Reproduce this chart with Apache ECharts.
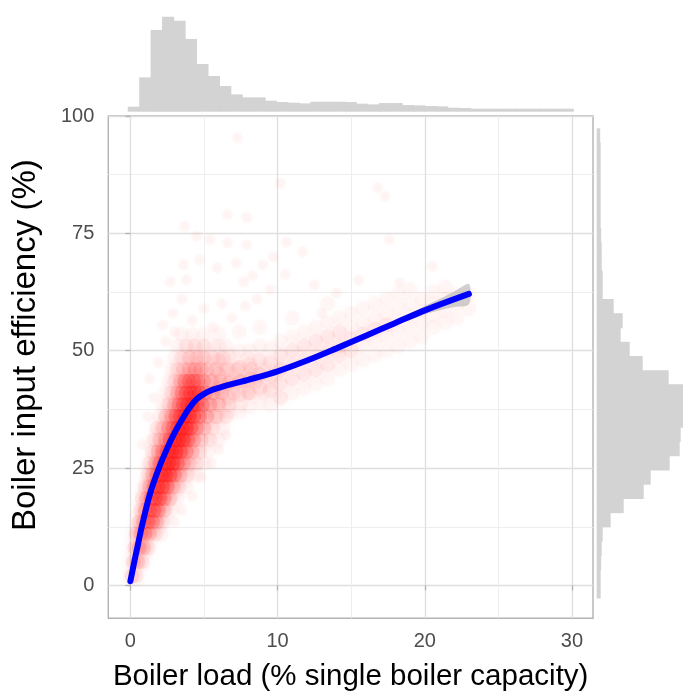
<!DOCTYPE html>
<html>
<head>
<meta charset="utf-8">
<script src="https://cdn.jsdelivr.net/npm/echarts@6/dist/echarts.min.js"></script>
<style>
html,body{margin:0;padding:0;background:#fff;}
#chart{width:683px;height:691px;}
</style>
</head>
<body>
<div id="chart"></div>
<script>
// ---------- data ----------
var xTicks = [0, 10, 20, 30];
var xMinorTicks = [5, 15, 25];
var yTicks = [0, 25, 50, 75, 100];
var yMinorTicks = [12.5, 37.5, 62.5, 87.5];

// dense observations: [boiler load %, efficiency %, relative local density]
var cloud = [
[0.1,2,3],[0.4,2,2],
[0.2,5,3],[0.5,5,4],[0.8,5,2],
[0.3,8,3],[0.6,8,5],[0.9,8,4],[1.2,8,2],
[0.4,11,3],[0.7,11,5],[1.0,11,6],[1.3,11,4],[1.7,11,2],[2.1,11,1],
[0.6,13.5,3],[0.9,13.5,5],[1.2,13.5,7],[1.5,13.5,6],[1.8,13.5,4],[2.2,13.5,2],
[0.7,16,2],[1.0,16,5],[1.3,16,7],[1.6,16,8],[1.9,16,6],[2.3,16,3],[2.8,16,1],
[0.8,18.5,2],[1.1,18.5,4],[1.4,18.5,7],[1.7,18.5,9],[2.0,18.5,8],[2.3,18.5,6],[2.7,18.5,3],[3.2,18.5,1],
[1.0,21,2],[1.3,21,4],[1.6,21,7],[1.9,21,9],[2.2,21,9],[2.5,21,7],[2.9,21,4],[3.3,21,2],[3.8,21,1],
[1.2,23.5,2],[1.5,23.5,4],[1.8,23.5,7],[2.1,23.5,9],[2.4,23.5,10],[2.7,23.5,9],[3.0,23.5,6],[3.4,23.5,4],[3.9,23.5,2],[4.5,23.5,1],
[1.3,26,2],[1.7,26,4],[2.0,26,7],[2.3,26,9],[2.6,26,10],[2.9,26,10],[3.2,26,8],[3.6,26,5],[4.0,26,3],[4.5,26,2],[5.0,26,1],
[1.5,28.5,2],[1.9,28.5,4],[2.2,28.5,6],[2.5,28.5,9],[2.8,28.5,10],[3.1,28.5,10],[3.4,28.5,9],[3.8,28.5,6],[4.2,28.5,4],[4.7,28.5,2],[5.3,28.5,1],
[1.6,31,2],[2.0,31,3],[2.4,31,5],[2.7,31,8],[3.0,31,10],[3.3,31,10],[3.6,31,10],[3.9,31,8],[4.3,31,5],[4.8,31,3],[5.4,31,2],[6.0,31,1],
[1.8,33.5,2],[2.2,33.5,3],[2.6,33.5,5],[2.9,33.5,7],[3.2,33.5,9],[3.5,33.5,10],[3.8,33.5,10],[4.1,33.5,9],[4.5,33.5,6],[5.0,33.5,4],[5.6,33.5,2],[6.3,33.5,1],
[2.0,36,1],[2.4,36,3],[2.8,36,5],[3.1,36,7],[3.4,36,9],[3.7,36,10],[4.0,36,10],[4.3,36,9],[4.7,36,7],[5.2,36,5],[5.8,36,3],[6.5,36,2],
[2.2,38.5,1],[2.6,38.5,2],[3.0,38.5,4],[3.3,38.5,6],[3.6,38.5,8],[3.9,38.5,10],[4.2,38.5,10],[4.5,38.5,9],[4.9,38.5,7],[5.4,38.5,5],[6.0,38.5,3],[6.7,38.5,2],[7.5,38.5,1],
[2.4,41,1],[2.8,41,2],[3.2,41,4],[3.5,41,6],[3.8,41,8],[4.1,41,9],[4.4,41,9],[4.7,41,8],[5.1,41,6],[5.6,41,4],[6.2,41,3],[7.0,41,2],[8.0,41,2],[9.0,41,1],
[2.6,43.5,1],[3.0,43.5,2],[3.4,43.5,4],[3.7,43.5,6],[4.0,43.5,7],[4.3,43.5,7],[4.6,43.5,6],[5.0,43.5,5],[5.5,43.5,4],[6.1,43.5,3],[6.8,43.5,2],[7.6,43.5,2],[8.5,43.5,2],[9.5,43.5,1],
[2.8,46,1],[3.2,46,2],[3.6,46,3],[4.0,46,4],[4.4,46,5],[4.8,46,4],[5.2,46,3],[5.8,46,3],[6.5,46,2],[7.3,46,2],[8.2,46,2],[9.2,46,1],
[3.0,48.5,1],[3.5,48.5,2],[4.0,48.5,3],[4.5,48.5,3],[5.0,48.5,3],[5.6,48.5,2],[6.3,48.5,2],[7.1,48.5,1],[8.0,48.5,1],
[3.2,51,1],[3.8,51,2],[4.4,51,2],[5.0,51,2],[5.7,51,1],[6.5,51,1],
[3.5,53.5,1],[4.2,53.5,1],[5.0,53.5,1],[6.0,53.5,1],
// band along the trend at higher loads
[6.0,36,1],[6.0,39,2],[6.0,42,3],[6.0,45,2],[6.0,48,2],[6.0,51,1],
[6.7,37,1],[6.7,40,2],[6.7,43,3],[6.7,46,2],[6.7,49,1],
[7.4,37,1],[7.4,40.5,2],[7.4,43.5,3],[7.4,46.5,2],[7.4,50,1],[7.4,54,1],
[8.1,38,1],[8.1,41,2],[8.1,44,3],[8.1,47,2],[8.1,50,1],
[8.8,39,1],[8.8,42,2],[8.8,45,3],[8.8,48,2],[8.8,51,1],[8.8,55,1],
[9.5,38.5,1],[9.5,41.5,2],[9.5,44.5,2],[9.5,47.5,2],[9.5,50.5,1],
[10.2,40,2],[10.2,43,2],[10.2,46,3],[10.2,49,2],[10.2,52,1],
[11.0,41,1],[11.0,44,2],[11.0,47,2],[11.0,50,2],[11.0,53,1],[11.0,57,1],
[11.8,42,1],[11.8,45,2],[11.8,48,2],[11.8,51,2],[11.8,54,1],
[12.6,43,1],[12.6,46,2],[12.6,49,2],[12.6,52,2],[12.6,55,1],
[13.4,44,1],[13.4,47,2],[13.4,50,2],[13.4,53,2],[13.4,56,1],[13.4,60,1],
[14.2,46,1],[14.2,49,2],[14.2,51,2],[14.2,54,2],[14.2,57,1],
[15.0,47,1],[15.0,50,2],[15.0,52.5,2],[15.0,55,1],[15.0,58,1],
[15.8,48,1],[15.8,51,1],[15.8,53.5,2],[15.8,56,1],[15.8,59,1],
[16.6,49,1],[16.6,52,1],[16.6,54.5,2],[16.6,57,1],[16.6,60,1],
[17.4,50,1],[17.4,53,1],[17.4,55.5,2],[17.4,58,1],[17.4,61,1],
[18.2,51,1],[18.2,54,1],[18.2,56.5,1],[18.2,59,1],[18.2,62,1],
[19.0,52,1],[19.0,55,1],[19.0,57.5,1],[19.0,60,1],[19.0,63,1],
[19.8,53,1],[19.8,56,1],[19.8,58.5,1],[19.8,61,1],
[20.6,55,1],[20.6,57.5,1],[20.6,60,1],[20.6,62.5,1],
[21.4,56,1],[21.4,58.5,1],[21.4,61,1],[21.4,63.5,1],
[22.2,57,1],[22.2,60,1],[22.2,62,1],
[23.0,59,1],[23.0,62,1]
];
// isolated observations: [boiler load %, efficiency %, relative local density]
var sparse = [
[7.3,95.4,1],[10.2,85.7,1],[16.8,84.8,1],[17.3,82.9,1],[6.6,79,1],[7.9,78.4,1],[3.7,76.5,1],
[4.5,74.4,1],[5.4,73.7,1],[6.6,73,1],[7.9,72.6,1],[10.6,73.2,1],[11.7,71.1,1],[17.6,73.7,1],
[4.7,69.4,1],[5.9,67.7,1],[7.2,68.7,1],[9.0,68.3,1],[9.7,70,1],[10.5,66.2,1],[3.6,68.3,1],
[2.7,64.7,1],[3.8,65.1,1],[7.7,64.7,1],[14.0,62.3,1],[18.3,64.5,1],
[2.9,58,1],[3.5,61,1],[4.2,56.5,1],[5.0,59,1],[5.6,55,1],[6.2,60,1],[6.9,57,1],[7.8,59.5,1],
[8.6,61,1],[3.0,54,1],[2.4,52,1],[1.3,44,1],[1.6,40,1],[1.2,36,1],[0.8,30,1],[1.9,47.5,1],
[2.2,55.5,1],[9.5,63,1],[8.3,66,1],[12.5,64,1],[15.5,65,1],[20.5,68,1],[13.0,58,1],
[3.5,16,1],[4.2,19,1],[3.0,13.5,1],[4.8,23,1],[5.5,26,1],[6.0,29,1],[6.5,32,1]
];

// smoothed trend
var trendX = [0, 0.25, 0.5, 0.75, 1, 1.25, 1.5, 2, 2.5, 3, 3.5, 4, 4.5, 5, 5.5, 6, 7, 8, 10, 12, 14, 16, 18, 20, 23];
var trendY = [0.9, 4.8, 8.5, 12.2, 15.5, 18.6, 21.2, 25.5, 29.2, 32.5, 35.3, 37.8, 39.7, 40.8, 41.6, 42.1, 43.0, 43.8, 45.6, 47.9, 50.5, 53.2, 55.9, 58.6, 62.1];
// confidence band (visible part)
var ciX  = [16, 18, 20, 21, 22, 23];
var ciLo = [52.8, 55.3, 57.7, 58.6, 59.3, 59.9];
var ciHi = [53.6, 56.5, 59.5, 61.0, 62.6, 64.2];

// marginal histogram of boiler load
var loadEdges = [-0.15,0.63,1.40,2.18,2.95,3.73,4.50,5.28,6.06,6.83,7.61,8.38,9.16,9.93,10.71,11.49,12.26,13.04,13.81,14.59,15.36,16.14,16.92,17.69,18.47,19.24,20.02,20.79,21.57,22.35,23.12,23.90,24.67,25.45,26.22,27.00,27.78,28.55,29.33,30.10];
var loadCounts = [15,103,245,285,273,218,143,107,77,52,43,43,33,29,27,25,30,30,30,29,24,22,26,26,20,19,17,16,12,11,9,9,9,9,9,9,9,9,9];
// marginal histogram of efficiency
var effEdges = [-2.70,0.33,3.36,6.39,9.42,12.45,15.48,18.51,21.54,24.57,27.60,30.63,33.66,36.69,39.72,42.75,45.78,48.81,51.84,54.87,57.90,60.93,63.96,66.99,70.02,73.05,76.08,79.11,82.14,85.17,88.20,91.23,94.26,97.29];
var effCounts = [4,4,4.5,5,6,14,27,47,54,73,83,84,88,88,88,72,46,33,24,26,17,6,6,5,5,4.5,4,4,4,4,4,4,3.5];

// ---------- chart ----------
var FONT = 'Liberation Sans, Arial, sans-serif';
var GRID_MAJOR = '#dedede', GRID_MINOR = '#ececec', BORDER = '#b3b3b3', HIST = '#d3d3d3';
var X_MIN = -1.5, X_MAX = 31.43, Y_MIN = -7, Y_MAX = 100;

var trendData = trendX.map(function (x, i) { return [x, trendY[i]]; });
var loadHist = loadCounts.map(function (c, i) { return [loadEdges[i], loadEdges[i + 1], c]; });
var effHist = effCounts.map(function (c, i) { return [effEdges[i], effEdges[i + 1], c]; });
var ciData = ciX.map(function (x, i) { return [x, ciLo[i], ciHi[i]]; });

var chart = echarts.init(document.getElementById('chart'), null, {renderer: 'canvas'});
chart.setOption({
  animation: false,
  backgroundColor: '#ffffff',
  textStyle: {fontFamily: FONT},
  grid: [
    {left: 108.3, top: 116, width: 484.7, height: 502.3, show: true, borderColor: BORDER, borderWidth: 1.4,
     backgroundColor: 'transparent', outerBoundsMode: 'none', containLabel: false},
    {left: 108.3, top: 10, width: 484.7, height: 101.7, outerBoundsMode: 'none', containLabel: false},
    {left: 596.7, top: 116, width: 86.3, height: 502.3, outerBoundsMode: 'none', containLabel: false}
  ],
  xAxis: [
    {gridIndex: 0, type: 'value', min: X_MIN, max: X_MAX,
     name: 'Boiler load (% single boiler capacity)', nameLocation: 'middle', nameGap: 44,
     nameTextStyle: {fontSize: 29.5, color: '#000', fontFamily: FONT},
     axisLine: {show: false},
     axisTick: {show: true, customValues: xTicks, length: 5, lineStyle: {color: BORDER, width: 1.3}},
     axisLabel: {customValues: xTicks, fontSize: 20, color: '#4d4d4d', margin: 13, fontFamily: FONT},
     splitLine: {show: true, customValues: xTicks, lineStyle: {color: GRID_MAJOR, width: 1.3}}},
    {gridIndex: 0, type: 'value', min: X_MIN, max: X_MAX,
     axisLine: {show: false}, axisLabel: {show: false},
     axisTick: {show: false, customValues: xMinorTicks},
     splitLine: {show: true, customValues: xMinorTicks, lineStyle: {color: GRID_MINOR, width: 0.9}}},
    {gridIndex: 1, type: 'value', min: X_MIN, max: X_MAX, show: false},
    {gridIndex: 2, type: 'value', min: 0, max: 86.3, show: false}
  ],
  yAxis: [
    {gridIndex: 0, type: 'value', min: Y_MIN, max: Y_MAX,
     name: 'Boiler input efficiency (%)', nameLocation: 'middle', nameGap: 66,
     nameTextStyle: {fontSize: 33, color: '#000', fontFamily: FONT, padding: [0, 0, 0, 44]},
     axisLine: {show: false},
     axisTick: {show: true, customValues: yTicks, length: 5, lineStyle: {color: BORDER, width: 1.3}},
     axisLabel: {customValues: yTicks, fontSize: 20, color: '#4d4d4d', margin: 14, fontFamily: FONT},
     splitLine: {show: true, customValues: yTicks, lineStyle: {color: GRID_MAJOR, width: 1.3}}},
    {gridIndex: 0, type: 'value', min: Y_MIN, max: Y_MAX,
     axisLine: {show: false}, axisLabel: {show: false},
     axisTick: {show: false, customValues: yMinorTicks},
     splitLine: {show: true, customValues: yMinorTicks, lineStyle: {color: GRID_MINOR, width: 0.9}}},
    {gridIndex: 1, type: 'value', min: 0, max: 305, show: false},
    {gridIndex: 2, type: 'value', min: Y_MIN, max: Y_MAX, show: false}
  ],
  visualMap: [{
    type: 'continuous', show: false, seriesIndex: [0, 1], dimension: 2, min: 1, max: 10,
    inRange: {opacity: [0.025, 0.26]}
  }],
  series: [
    {type: 'scatter', xAxisIndex: 0, yAxisIndex: 0, data: cloud, symbol: 'circle', symbolSize: 15,
     itemStyle: {color: '#ff0000', shadowBlur: 10, shadowColor: '#ff0000'}, z: 2, silent: true},
    {type: 'scatter', xAxisIndex: 0, yAxisIndex: 0, data: sparse, symbol: 'circle', symbolSize: 11,
     itemStyle: {color: '#ff0000', shadowBlur: 4, shadowColor: '#ff0000'}, z: 2, silent: true},
    {type: 'custom', xAxisIndex: 0, yAxisIndex: 0, data: ciData, z: 3, silent: true,
     renderItem: function (params, api) {
       if (params.dataIndex !== 0) return null;
       var pts = [];
       for (var i = 0; i < ciX.length; i++) pts.push(api.coord([ciX[i], ciHi[i]]));
       for (var j = ciX.length - 1; j >= 0; j--) pts.push(api.coord([ciX[j], ciLo[j]]));
       return {type: 'polygon', shape: {points: pts, smooth: 0.3}, style: {fill: 'rgba(153,153,153,0.45)'}};
     }},
    {type: 'line', xAxisIndex: 0, yAxisIndex: 0, data: trendData, smooth: 0.35, showSymbol: false,
     lineStyle: {color: '#0000ff', width: 6, cap: 'round'}, z: 4, silent: true},
    {type: 'custom', xAxisIndex: 2, yAxisIndex: 2, data: loadHist, silent: true,
     renderItem: function (params, api) {
       var p0 = api.coord([api.value(0), 0]);
       var p1 = api.coord([api.value(1), api.value(2)]);
       return {type: 'rect', shape: {x: p0[0] - 0.4, y: p1[1], width: p1[0] - p0[0] + 0.8, height: p0[1] - p1[1]},
               style: {fill: HIST}};
     }},
    {type: 'custom', xAxisIndex: 3, yAxisIndex: 3, data: effHist, silent: true,
     encode: {x: 2, y: [0, 1]},
     renderItem: function (params, api) {
       var p0 = api.coord([0, api.value(0)]);
       var p1 = api.coord([api.value(2), api.value(1)]);
       return {type: 'rect', shape: {x: p0[0], y: p1[1] - 0.4, width: p1[0] - p0[0], height: p0[1] - p1[1] + 0.8},
               style: {fill: HIST}};
     }}
  ]
});
</script>
</body>
</html>
